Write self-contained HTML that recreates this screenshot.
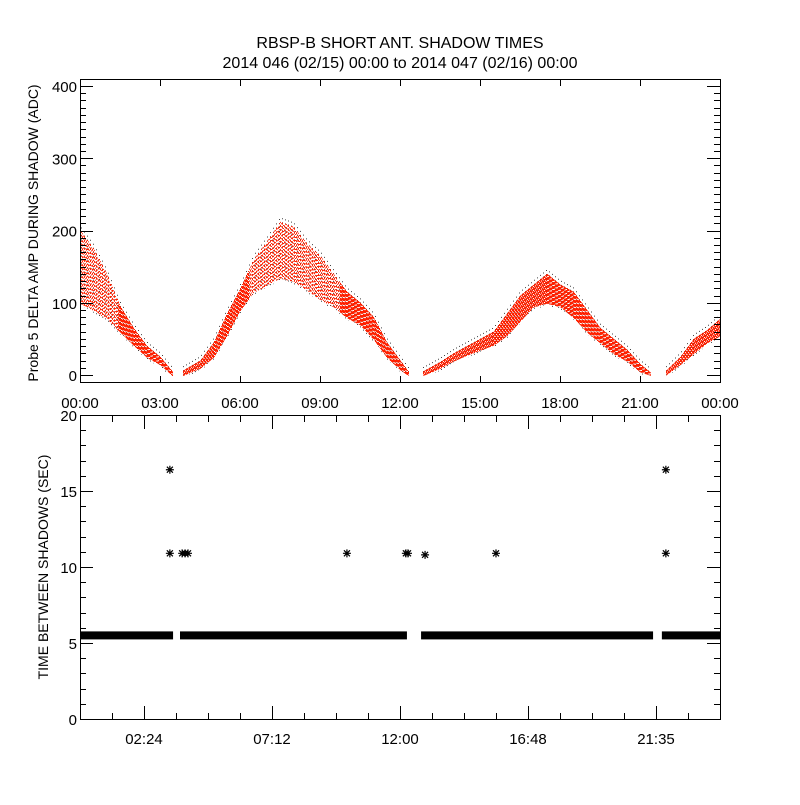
<!DOCTYPE html>
<html><head><meta charset="utf-8"><style>
body{margin:0;background:#fff}
svg text{font-family:"Liberation Sans",sans-serif;fill:#000}
</style></head><body>
<svg id="c" width="800" height="800" xmlns="http://www.w3.org/2000/svg">
<rect width="800" height="800" fill="#fff"/>
<text x="400" y="48" font-size="16" text-anchor="middle">RBSP-B SHORT ANT. SHADOW TIMES</text>
<text x="400" y="68" font-size="16" text-anchor="middle">2014 046 (02/15) 00:00 to 2014 047 (02/16) 00:00</text>
<g id="topPanel"></g><g id="botPanel"></g>
</svg>
<script>
// ---- top panel data (hours, ADC) ----
const ampTimes=[0,0.5,1,1.5,2,2.5,3,3.45,  3.85,4.5,5,5.5,6,6.5,7,7.5,8,8.5,9,9.5,10,10.5,11,11.5,12,12.3,  12.86,13.5,14,14.5,15,15.5,16,16.5,17,17.5,18,18.5,19,19.5,20,20.5,21,21.4,  21.94,22.5,23,23.5,24];
const ampUpper=[200,175,140,95,65,40,25,5,  6,20,45,85,120,160,185,212,205,182,165,140,115,100,80,45,20,5,  5,18,30,40,50,60,85,110,125,140,125,115,90,65,50,35,15,3,  5,25,50,62,78];
const ampLower=[100,90,78,60,42,25,15,0,  0,10,25,55,90,115,125,135,130,118,105,95,80,70,50,25,8,0,  0,10,20,28,35,42,55,75,95,100,95,80,60,45,30,20,5,0,  0,15,30,45,55];
const ampGaps=[[3.45,3.85],[12.3,12.86],[21.4,21.94]];
// ---- bottom panel data ----
const bandSegments=[[0,3.49],[3.75,12.26],[12.79,21.49],[21.82,24]];
const bandValue=5.5;
const outlierTimes=[3.37,3.37,3.83,3.94,4.05,10.01,12.22,12.3,12.94,15.6,21.97,21.97];
const outlierValues=[16.4,10.9,10.9,10.9,10.9,10.9,10.9,10.9,10.8,10.9,16.4,10.9];
const topYTicks=[0,100,200,300,400];
const topXLabels=["00:00","03:00","06:00","09:00","12:00","15:00","18:00","21:00","00:00"];
const botYTicks=[0,5,10,15,20];
const botXLabels=["02:24","07:12","12:00","16:48","21:35"];

const NS="http://www.w3.org/2000/svg";
function mk(p,t,a){const e=document.createElementNS(NS,t);for(const k in a)e.setAttribute(k,a[k]);p.appendChild(e);return e;}
const X0=80,X1=720;
const tx=h=>X0+h/24*(X1-X0);
const ty=v=>375-v*0.7225;
const by=v=>719-v*15.2;
const topG=document.getElementById('topPanel'), botG=document.getElementById('botPanel');

function interp(arr,h){for(let i=0;i<ampTimes.length-1;i++){if(h>=ampTimes[i]&&h<=ampTimes[i+1]){const f=(h-ampTimes[i])/(ampTimes[i+1]-ampTimes[i]||1);return arr[i]+f*(arr[i+1]-arr[i]);}}return null;}
const inGap=h=>ampGaps.some(g=>h>g[0]&&h<g[1]);

const blk=mk(topG,'g',{});


const red=mk(topG,'g',{});


for(let px=X0;px<=X1;px++){
  const h=(px-X0)/(X1-X0)*24;
  if(inGap(h))continue;
  const u=interp(ampUpper,h),l=interp(ampLower,h);
  if(u==null)continue;
  if(px%3==0){const ln=mk(blk,'line',{x1:px+0.5,x2:px+0.5,y1:ty(u+6),y2:ty(Math.max(l-4,0)),stroke:'#444','stroke-width':1,'stroke-dasharray':'1 3'});
    
    }
  const ln=mk(red,'line',{x1:px+0.5,x2:px+0.5,y1:ty(u),y2:ty(l)+1,stroke:'#ff2000','stroke-width':1,'stroke-dasharray':(u-l>40?(px%2?'1 2':'2 2'):'3 1'),'stroke-dashoffset':px%3});
  
  
}

const tf=mk(topG,'rect',{x:80.5,y:79.5,width:640,height:303,fill:'none',stroke:'#000'});


for(let v=0;v<=410;v+=10){const maj=v%100==0,L=maj?13:6;
  mk(topG,'line',{x1:80,x2:80+L,y1:Math.round(ty(v))+0.5,y2:Math.round(ty(v))+0.5,stroke:'#000'});
  mk(topG,'line',{x1:720-L,x2:720,y1:Math.round(ty(v))+0.5,y2:Math.round(ty(v))+0.5,stroke:'#000'});}
topYTicks.forEach(v=>{const t=mk(topG,'text',{x:77,y:ty(v)+6,'font-size':15,'text-anchor':'end'});t.textContent=v;
  
  });
topXLabels.forEach((s,i)=>{const x=tx(i*3);
  mk(topG,'line',{x1:x+0.5,x2:x+0.5,y1:80,y2:86,stroke:'#000'});
  mk(topG,'line',{x1:x+0.5,x2:x+0.5,y1:376,y2:382,stroke:'#000'});
  const t=mk(topG,'text',{x:x,y:408,'font-size':15,'text-anchor':'middle'});t.textContent=s;
  
  });
const tyl=mk(topG,'text',{x:0,y:0,'font-size':14,'text-anchor':'middle',transform:'translate(38,233) rotate(-90)'});
tyl.textContent='Probe 5 DELTA AMP DURING SHADOW (ADC)';



bandSegments.forEach(s=>{const r=mk(botG,'rect',{x:tx(s[0]),y:by(bandValue)-4,width:tx(s[1])-tx(s[0]),height:8,fill:'#000'});
  
  });
outlierTimes.forEach((h,i)=>{const cx=tx(h),cy=by(outlierValues[i]);
  const g=mk(botG,'path',{d:`M${cx-4} ${cy}H${cx+4}M${cx} ${cy-4}V${cy+4}M${cx-3} ${cy-3}L${cx+3} ${cy+3}M${cx-3} ${cy+3}L${cx+3} ${cy-3}`,stroke:'#000','stroke-width':1.2,fill:'none'});
  
  });

const bf=mk(botG,'rect',{x:80.5,y:415.5,width:640,height:304,fill:'none',stroke:'#000'});


for(let v=0;v<=20;v++){const maj=v%5==0,L=maj?13:6,y=Math.round(by(v))+0.5;
  mk(botG,'line',{x1:80,x2:80+L,y1:y,y2:y,stroke:'#000'});
  mk(botG,'line',{x1:720-L,x2:720,y1:y,y2:y,stroke:'#000'});}
botYTicks.forEach(v=>{const t=mk(botG,'text',{x:77,y:by(v)+6,'font-size':15,'text-anchor':'end'});t.textContent=v;
  
  });
for(let k=0;k<=20;k++){const x=Math.round(tx(k*1.2))+0.5,maj=(k%4==2);const L=maj?13:6;
  mk(botG,'line',{x1:x,x2:x,y1:416,y2:416+L,stroke:'#000'});
  mk(botG,'line',{x1:x,x2:x,y1:719-L,y2:719,stroke:'#000'});}
botXLabels.forEach((s,i)=>{const x=tx(2.4+i*4.8);const t=mk(botG,'text',{x:x,y:744,'font-size':15,'text-anchor':'middle'});t.textContent=s;
  
  });
const byl=mk(botG,'text',{x:0,y:0,'font-size':14,'text-anchor':'middle',transform:'translate(48,567) rotate(-90)'});
byl.textContent='TIME BETWEEN SHADOWS (SEC)';


</script>
</body></html>
